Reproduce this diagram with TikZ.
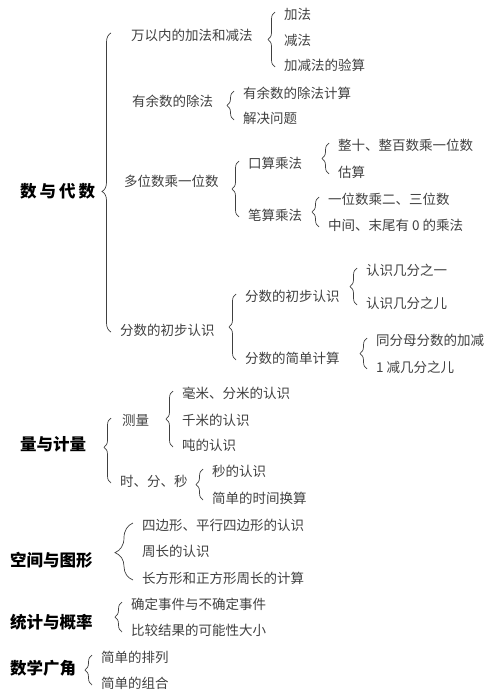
\documentclass[tikz,border=0pt]{standalone}
\usepackage{fontspec}
\setmainfont{Noto Sans CJK SC}
\usetikzlibrary{calc, decorations.pathreplacing}
\tikzset{
    topic/.style={anchor=west, inner sep=0pt, font=\bfseries\fontsize{16.5}{17}\selectfont},
    item/.style={anchor=west, inner sep=0pt, text=black!75, font=\fontsize{13.5}{14}\selectfont},
    curly/.style={draw=black!75, line width=0.7pt, decorate, decoration={brace, amplitude=7pt, aspect=0.5}},
}
\newcommand{\bracelink}[3][]{
    \draw[curly, #1] ($(#3.west)+(-9,2)$) -- ($(#3.west |- #2.west)+(-9,-2)$);
}

\begin{document}
\begin{tikzpicture}[x=1pt, y=-1pt]
    \useasboundingbox (0,0) rectangle (500,698);
    \node[topic] (t1) at (20,191) {数\hspace{3pt}与\hspace{3pt}代\hspace{3pt}数};
    \node[topic] (t2) at (20,444) {量与计量};
    \node[topic] (t3) at (10,560) {空间与图形};
    \node[topic] (t4) at (10,622) {统计与概率};
    \node[topic] (t5) at (10,668) {数学广角};

    \node[item] (a1) at (131,35) {万以内的加法和减法};
    \node[item] (a2) at (132,101) {有余数的除法};
    \node[item] (a3) at (124,181) {多位数乘一位数};
    \node[item] (a4) at (120,330) {分数的初步认识};
    \node[item] (a11) at (284,14) {加法};
    \node[item] (a12) at (284,40) {减法};
    \node[item] (a13) at (284,65) {加减法的验算};
    \node[item] (a21) at (243,93) {有余数的除法计算};
    \node[item] (a22) at (243,118) {解决问题};
    \node[item] (b1) at (248,163) {口算乘法};
    \node[item] (b2) at (248,215) {笔算乘法};
    \node[item] (b11) at (338,145) {整十、整百数乘一位数};
    \node[item] (b12) at (338,172) {估算};
    \node[item] (b21) at (328,199) {一位数乘二、三位数};
    \node[item] (b22) at (328,225) {中间、末尾有 0 的乘法};
    \node[item] (c1) at (245,296) {分数的初步认识};
    \node[item] (c2) at (245,358) {分数的简单计算};
    \node[item] (c11) at (366,270) {认识几分之一};
    \node[item] (c12) at (366,303) {认识几分之儿};
    \node[item] (c21) at (376,340) {同分母分数的加减};
    \node[item] (c22) at (376,367) {1 减几分之儿};

    \node[item] (d1) at (122,420) {测量};
    \node[item] (d2) at (120,481) {时、分、秒};
    \node[item] (d11) at (182,393) {毫米、分米的认识};
    \node[item] (d12) at (182,420) {千米的认识};
    \node[item] (d13) at (182,445) {吨的认识};
    \node[item] (d21) at (212,471) {秒的认识};
    \node[item] (d22) at (212,498) {简单的时间换算};

    \node[item] (e1) at (142,525) {四边形、平行四边形的认识};
    \node[item] (e2) at (142,551) {周长的认识};
    \node[item] (e3) at (142,578) {长方形和正方形周长的计算};
    \node[item] (f1) at (131,604) {确定事件与不确定事件};
    \node[item] (f2) at (131,630) {比较结果的可能性大小};
    \node[item] (g1) at (101,657) {简单的排列};
    \node[item] (g2) at (101,683) {简单的组合};

    \bracelink[decoration={amplitude=9pt, aspect=0.47}]{a1}{a4}
    \bracelink{a11}{a13}
    \bracelink{a21}{a22}
    \bracelink{b1}{b2}
    \bracelink{b11}{b12}
    \bracelink{b21}{b22}
    \bracelink{c1}{c2}
    \bracelink{c11}{c12}
    \bracelink{c21}{c22}
    \bracelink[decoration={aspect=0.55}]{d1}{d2}
    \bracelink{d11}{d13}
    \bracelink{d21}{d22}
    \bracelink[decoration={amplitude=18pt, aspect=0.48}]{e1}{e3}
    \bracelink{f1}{f2}
    \bracelink{g1}{g2}
\end{tikzpicture}
\end{document}
